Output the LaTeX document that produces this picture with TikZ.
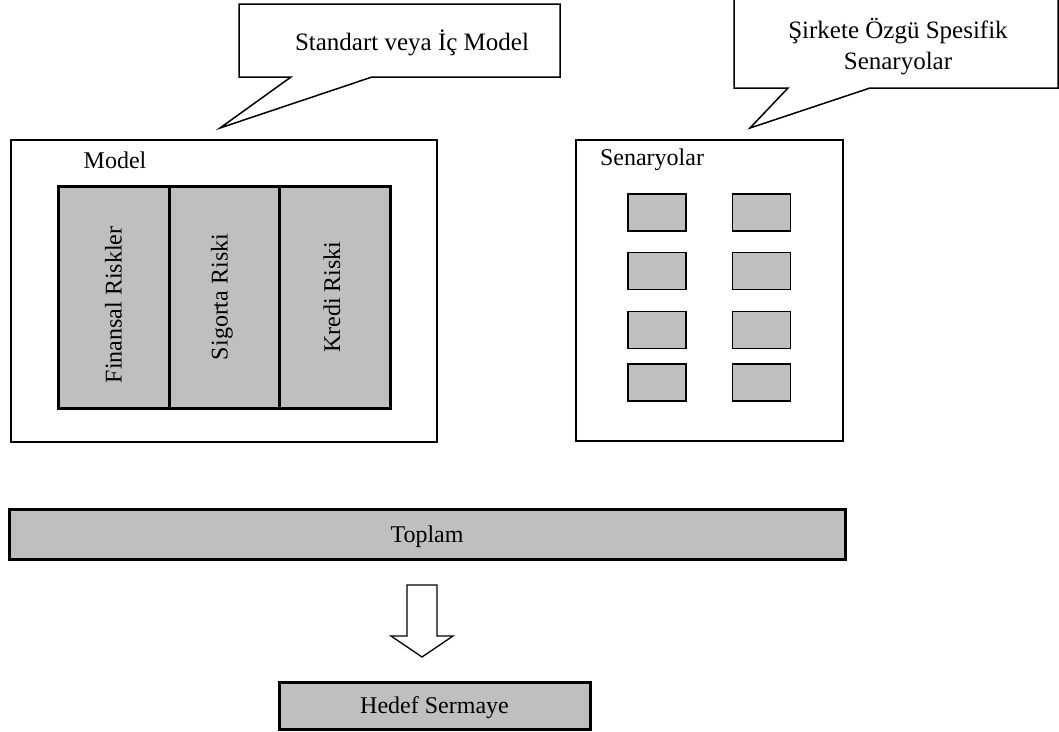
\documentclass[tikz,border=0pt]{standalone}
\usepackage{fontspec}
\setmainfont{Liberation Serif}
\usetikzlibrary{calc}
\begin{document}
\begin{tikzpicture}[x=1pt,y=-1pt,
  every node/.style={font=\fontsize{24}{29}\selectfont, inner sep=0pt, outer sep=0pt},
  frame/.style={draw=black, line width=2.4pt, fill=white, rectangle},
  riskcol/.style={draw=black, line width=3pt, fill=black!25, rectangle},
  scenbox/.style={draw=black, line width=1.8pt, fill=black!25, rectangle,
                  minimum width=58pt, minimum height=37pt},
  sumbar/.style={draw=black, line width=3pt, fill=black!25, rectangle, text depth=0pt},
  bubble/.style={draw=black, line width=1.5pt, fill=white, line join=miter},
  label/.style={text=black},
  bubbletext/.style={font=\fontsize{25}{31}\selectfont}
]
\useasboundingbox (0,0) rectangle (1059,731);
\clip (0,0) rectangle (1059,731);

% speech bubble: standard or internal model
\draw[bubble] (239,4) -- (560,4) -- (560,77) -- (372,77) -- (220,128)
  -- (291,77) -- (239,77) -- cycle;
\node[label, bubbletext] (bubbleA) at (412,43) {Standart veya İç Model};

% speech bubble: company specific scenarios
\draw[bubble] (734,-10) -- (1058,-10) -- (1058,88) -- (870,88) -- (750,128)
  -- (788,88) -- (734,88) -- cycle;
\node[label, bubbletext, align=center] (bubbleB) at (898,47)
  {Şirkete Özgü Spesifik\\Senaryolar};

% model frame with the three risk columns
\node[frame, minimum width=426pt, minimum height=302pt] (model) at (224,291) {};
\node[label] (modeltitle) at (115,160) {Model};
\node[riskcol, minimum width=111pt, minimum height=222pt] (fin) at (113.5,297) {};
\node[riskcol, minimum width=110pt, minimum height=222pt] (sig) at (224,297) {};
\node[riskcol, minimum width=111pt, minimum height=222pt] (kre) at (334.5,297) {};
\node[label, rotate=90] (finL) at (113.5,305) {Finansal Riskler};
\node[label, rotate=90] (sigL) at (222,297) {Sigorta Riski};
\node[label, rotate=90] (kreL) at (332,297) {Kredi Riski};

% scenario frame with eight scenario boxes
\node[frame, minimum width=267pt, minimum height=301pt] (scen) at (709.5,290.5) {};
\node[label] (scentitle) at (652,160) {Senaryolar};
\foreach \r/\y in {1/212.5, 2/271, 3/330, 4/382.5}{
  \node[scenbox] (s\r a) at (657,\y) {};
  \node[scenbox] (s\r b) at (761.5,\y) {};
}

% total and target capital
\node[sumbar, minimum width=836pt, minimum height=50pt] (toplam) at (427,534) {Toplam};
\node[sumbar, minimum width=311pt, minimum height=47pt] (hedef) at (434.5,705.5) {Hedef Sermaye};

% hollow block arrow from total to target capital
\coordinate (atop) at (422,585);
\coordinate (atip) at (422,657);
\draw[line width=1.3pt, fill=white, line join=miter]
  ($(atop)+(-15,0)$) -- ($(atop)+(15,0)$) -- ($(atop)+(15,51)$) -- ($(atop)+(31,51)$)
  -- (atip) -- ($(atop)+(-31,51)$) -- ($(atop)+(-15,51)$) -- cycle;
\end{tikzpicture}
\end{document}
